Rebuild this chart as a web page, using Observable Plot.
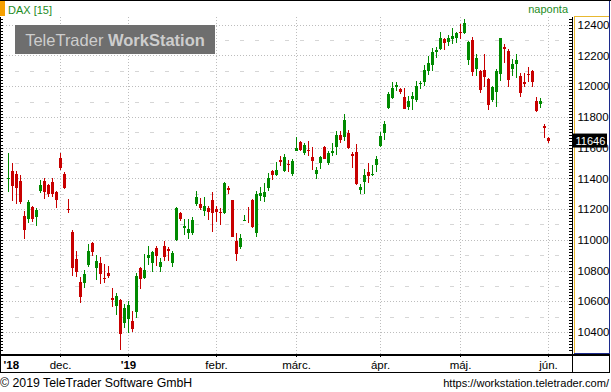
<!DOCTYPE html>
<html><head><meta charset="utf-8">
<script src="https://cdn.jsdelivr.net/npm/d3@7"></script>
<script src="https://cdn.jsdelivr.net/npm/@observablehq/plot@0.6"></script>
<style>html,body{margin:0;padding:0;background:#fff;} svg{display:block}</style>
</head><body><div id="chart"></div>
<script>
// DAX daily candles, 14 Nov 2018 .. 3 Jun 2019 (trading-day index 1..136)
const open = [11395,11446,11427,11382,11155,11137,11213,11150,11319,11382,
11356,11377,11310,11533,11429,11200,11053,10876,10727,10716,
10833,10980,10814,10850,10749,10781,10621,10572,10609,10456,
10482,10469,10533,10814,10753,10883,10846,10950,10820,10960,
10943,10852,10999,11174,11077,11044,11047,11233,11233,11187,
11207,11259,11200,11181,11177,11337,11259,10992,10956,11121,
11177,11259,11047,11287,11281,11339,11447,11421,11517,11447,
11493,11430,11581,11639,11568,11587,11542,11426,11499,11606,
11497,11568,11606,11684,11671,11697,11561,11574,11323,11374,
11439,11419,11490,11613,11697,11857,11922,11993,11980,11928,
11863,11915,11909,12017,12026,12096,12137,12222,12241,12307,
12287,12307,12313,12352,12346,12170,12300,12112,12098,12104,
12046,11909,11961,12078,12254,12228,12111,12144,12065,12026,
12080,12098,11902,11883,11739,11661];
const high = [11565,11500,11446,11420,11187,11258,11217,11207,11388,11403,
11362,11401,11317,11565,11442,11265,11064,10928,10760,10803,
10973,10986,10900,10889,10844,10831,10686,10654,10612,10583,
10602,10538,10783,10820,10909,10961,10930,10961,10883,10992,
10951,10927,11213,11183,11138,11133,11148,11317,11272,11279,
11220,11311,11220,11209,11376,11350,11262,11044,11040,11161,
11213,11268,11320,11341,11369,11434,11456,11506,11545,11558,
11519,11525,11671,11645,11630,11645,11606,11471,11548,11613,
11581,11632,11710,11710,11819,11716,11574,11624,11361,11458,
11497,11490,11548,11703,11774,11961,12026,12026,11987,11987,
11935,11961,12033,12033,12137,12196,12248,12254,12352,12313,
12333,12378,12352,12404,12437,12296,12320,12209,12104,12209,
12052,12000,12111,12313,12274,12241,12176,12209,12085,12085,
12124,12104,11928,11922,11752,11667];
const low = [11310,11254,11235,11235,11008,11112,11118,11092,11302,11267,
11280,11280,11209,11455,11330,11177,10762,10760,10589,10684,
10820,10892,10736,10710,10719,10749,10563,10514,10282,10424,
10391,10398,10490,10682,10747,10838,10788,10831,10788,10862,
10865,10826,10995,11125,11034,11008,11029,11222,11194,11157,
11129,11053,11116,11096,11170,11298,11018,10862,10940,11120,
11107,11077,11021,11255,11246,11320,11391,11415,11480,11441,
11441,11417,11576,11581,11553,11546,11452,11398,11458,11525,
11484,11544,11555,11632,11645,11594,11465,11355,11297,11297,
11368,11413,11439,11606,11652,11850,11915,11970,11948,11850,
11843,11843,11896,11980,12000,12072,12098,12183,12235,12235,
12261,12274,12280,12307,12339,12138,12065,12065,11954,11996,
11843,11896,11863,12033,12150,11993,12065,12052,11928,11993,
12026,11993,11831,11856,11661,11628];
const close = [11405,11351,11338,11245,11066,11245,11137,11194,11356,11312,
11299,11299,11261,11468,11338,11194,10814,10788,10626,10779,
10928,10924,10863,10775,10742,10766,10611,10634,10385,10557,
10576,10417,10766,10747,10805,10898,10922,10892,10857,10891,
10927,10914,11209,11135,11088,11070,11129,11279,11207,11220,
11181,11177,11181,11177,11369,11324,11021,10910,11010,11125,
11172,11086,11298,11302,11311,11402,11419,11454,11506,11538,
11489,11512,11598,11587,11617,11581,11516,11452,11542,11525,
11568,11581,11684,11652,11781,11600,11548,11361,11342,11419,
11413,11426,11523,11678,11755,11952,11987,12007,11961,11850,
11902,11935,12000,12022,12104,12150,12222,12235,12313,12280,
12313,12326,12346,12346,12411,12287,12091,12183,11974,12059,
11876,11993,12098,12313,12241,12039,12144,12169,11954,12013,
12076,12026,11837,11902,11726,11646];

// month boundaries (trading-day index of first session of each month)
const gridIdx = [14, 31, 53, 73, 94, 114, 136];
const monthTicks = [14, 53, 73, 94, 114, 136];
const monthNames = ["dec.", "febr.", "márc.", "ápr.", "máj.", "jún."];
const yearTicks = [31];
const yearNames = ["'19"];
const startYear = "'18";
const yTicks = [10400, 10600, 10800, 11000, 11200, 11400, 11600, 11800, 12000, 12200, 12400];
const yHalf = [10500, 10700, 10900, 11100, 11300, 11500, 11700, 11900, 12100, 12300];

const RED = "#c80000", GREEN = "#008a00";
const candles = open.map((o, k) => {
  const c = close[k];
  let top = Math.max(o, c), bot = Math.min(o, c);
  if (top - bot < 6) { const m = (top + bot) / 2; top = m + 3; bot = m - 3; }
  return {i: k + 1, o, h: high[k], l: low[k], c, top, bot, col: c > o ? GREEN : RED};
});
const minorTicks = d3.range(10260, 12450, 20);
const FONT = "'Liberation Sans', Arial, sans-serif";

const chart = Plot.plot({
  width: 611, height: 392,
  marginLeft: 0, marginRight: 40, marginTop: 17, marginBottom: 38,
  style: {fontFamily: FONT, fontSize: "11.5px", color: "black", background: "white", overflow: "visible"},
  x: {domain: [-1, 141.75], axis: null},
  y: {domain: [10257, 12450], axis: null},
  marks: [
    Plot.ruleY(yHalf, {stroke: "#d6d6d6", strokeDasharray: "4,11", shapeRendering: "crispEdges"}),
    Plot.ruleY(yTicks, {stroke: "#bdbdbd", strokeDasharray: "1,2", shapeRendering: "crispEdges"}),
    Plot.ruleX(gridIdx, {stroke: "#bdbdbd", strokeDasharray: "1,2", shapeRendering: "crispEdges"}),
    Plot.ruleX(candles, {x: "i", y1: "l", y2: "h", stroke: "col", strokeWidth: 1, shapeRendering: "crispEdges"}),
    Plot.ruleX(candles, {x: "i", y1: "bot", y2: "top", stroke: "col", strokeWidth: 3, shapeRendering: "crispEdges"}),
    Plot.ruleY(minorTicks, {x1: 141.25, x2: 142, stroke: "black", shapeRendering: "crispEdges"}),
    Plot.ruleY(minorTicks, {x1: -1, x2: -0.25, stroke: "black", shapeRendering: "crispEdges"}),
    Plot.axisY({anchor: "right", ticks: yTicks, tickSize: 0, tickPadding: 6, tickFormat: d3.format("d"), label: null, fill: "black"}),
    Plot.axisX({ticks: gridIdx, tickSize: 3, tickFormat: () => "", label: null, stroke: "black"}),
    Plot.text(monthTicks, {x: d => d, text: (d, k) => monthNames[k], frameAnchor: "bottom", dy: 11, lineAnchor: "middle", fill: "black"}),
    Plot.text(yearTicks, {x: d => d, text: (d, k) => yearNames[k], frameAnchor: "bottom", dy: 11, lineAnchor: "middle", fontWeight: "bold", fill: "black"}),
    Plot.text([startYear], {frameAnchor: "bottom-left", text: d => d, dx: 3, dy: 11, lineAnchor: "middle", textAnchor: "start", fontWeight: "bold", fill: "black"})
  ]
});
document.getElementById("chart").appendChild(chart);

// static decorations
const svg = d3.select(chart);
const yS = chart.scale("y");
const g = svg.append("g").style("font-family", FONT).attr("text-anchor", "start");
const line = (x1, y1, x2, y2, col, w = 1) => g.append("line").attr("x1", x1).attr("y1", y1).attr("x2", x2).attr("y2", y2)
  .attr("stroke", col).attr("stroke-width", w).attr("shape-rendering", "crispEdges");
line(0, 0.5, 611, 0.5, "#000");
g.append("rect").attr("x", 0).attr("y", 1).attr("width", 5).attr("height", 15).attr("fill", "#f5a000");
g.append("text").attr("x", 8).attr("y", 13.5).attr("text-anchor", "start").attr("fill", "#1e8c1e").style("font-size", "11px").text("DAX [15]");
g.append("text").attr("x", 568).attr("y", 13).attr("text-anchor", "end").attr("fill", "#1e8c1e").style("font-size", "11px").text("naponta");
// watermark
g.append("rect").attr("x", 15).attr("y", 25).attr("width", 200).attr("height", 29).attr("fill", "#6e6e6e");
const wm = g.append("text").attr("x", 115).attr("y", 45.5).attr("text-anchor", "middle").attr("fill", "#cdcdcd").style("font-size", "16.5px");
wm.append("tspan").text("TeleTrader ");
wm.append("tspan").style("font-weight", "bold").text("WorkStation");
// frame lines
line(0.5, 17, 0.5, 373, "#000");
line(572.5, 17, 572.5, 373, "#000");
line(574.5, 16, 574.5, 353, "#e8b830");
line(574, 16.5, 609, 16.5, "#e8b830");
line(609.5, 1, 609.5, 353, "#1c2a8c");
line(574, 353.5, 610, 353.5, "#1c2a8c");
g.append("rect").attr("x", 0).attr("y", 354).attr("width", 610).attr("height", 2).attr("fill", "#000");
line(0, 372.5, 610, 372.5, "#000");
line(609.5, 354, 609.5, 373, "#000");
// last value label
const last = close[close.length - 1];
const ly = yS.apply(last);
g.append("rect").attr("x", 573).attr("y", ly - 7).attr("width", 34).attr("height", 14).attr("fill", "#000");
g.append("text").attr("x", 575.5).attr("y", ly + 4).attr("text-anchor", "start").attr("fill", "#fff").style("font-size", "11px").text(String(last));
// footer
g.append("text").attr("x", 0).attr("y", 387).attr("text-anchor", "start").attr("fill", "#000").style("font-size", "12.3px").text("© 2019 TeleTrader Software GmbH");
g.append("text").attr("x", 609).attr("y", 387).attr("text-anchor", "end").attr("fill", "#000").style("font-size", "11.1px").text("https://workstation.teletrader.com/");
</script></body></html>
